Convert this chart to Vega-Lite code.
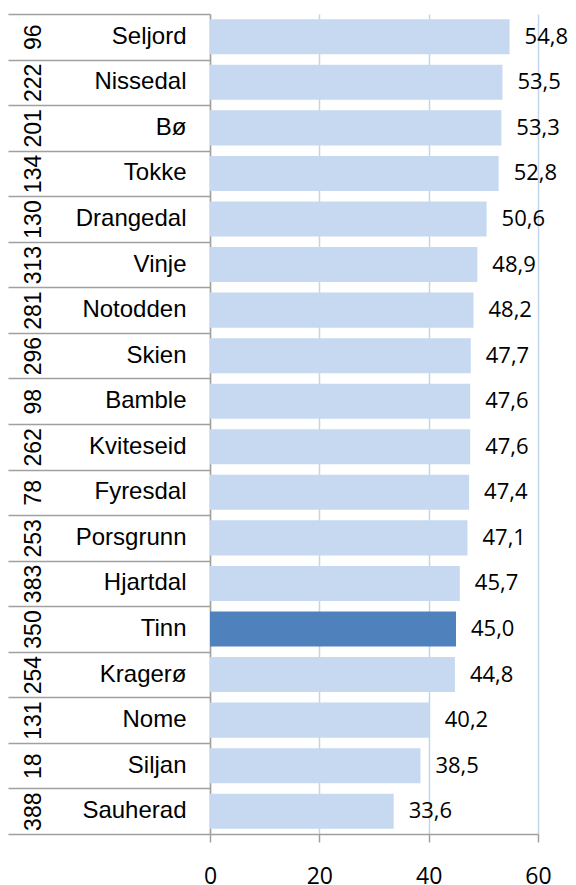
{
  "$schema": "https://vega.github.io/schema/vega-lite/v6.json",
  "autosize": {"type": "none"},
  "width": 328,
  "height": 820,
  "padding": {"left": 210, "top": 14, "right": 38, "bottom": 51},
  "data": {
    "values": [
      {"name": "Seljord", "n": 96, "value": 54.8},
      {"name": "Nissedal", "n": 222, "value": 53.5},
      {"name": "Bø", "n": 201, "value": 53.3},
      {"name": "Tokke", "n": 134, "value": 52.8},
      {"name": "Drangedal", "n": 130, "value": 50.6},
      {"name": "Vinje", "n": 313, "value": 48.9},
      {"name": "Notodden", "n": 281, "value": 48.2},
      {"name": "Skien", "n": 296, "value": 47.7},
      {"name": "Bamble", "n": 98, "value": 47.6},
      {"name": "Kviteseid", "n": 262, "value": 47.6},
      {"name": "Fyresdal", "n": 78, "value": 47.4},
      {"name": "Porsgrunn", "n": 253, "value": 47.1},
      {"name": "Hjartdal", "n": 383, "value": 45.7},
      {"name": "Tinn", "n": 350, "value": 45.0},
      {"name": "Kragerø", "n": 254, "value": 44.8},
      {"name": "Nome", "n": 131, "value": 40.2},
      {"name": "Siljan", "n": 18, "value": 38.5},
      {"name": "Sauherad", "n": 388, "value": 33.6}
    ]
  },
  "resolve": {"scale": {"y": "independent"}, "axis": {"y": "independent"}},
  "layer": [
    {
      "mark": {"type": "bar"},
      "encoding": {
        "y": {
          "field": "name", "type": "nominal", "sort": null,
          "scale": {"paddingInner": 0.23, "paddingOuter": 0.115},
          "axis": {
            "orient": "left", "title": null, "ticks": false,
            "domain": true, "domainColor": "#a0a0a0", "domainWidth": 1.5,
            "labelPadding": 24, "labelFont": "Liberation Sans", "labelFontSize": 24,
            "labelColor": "#000000", "labelAlign": "right", "labelBaseline": "middle"
          }
        },
        "x": {
          "field": "value", "type": "quantitative",
          "scale": {"domain": [0, 60], "nice": false},
          "axis": {
            "title": null, "values": [0, 20, 40, 60], "labelFlush": false,
            "grid": true, "gridColor": "#c3d5ec", "gridWidth": 1.5,
            "domainColor": "#a0a0a0", "domainWidth": 1.5,
            "tickColor": "#a0a0a0", "tickWidth": 1.5, "tickSize": 8,
            "labelFont": "Open Sans", "labelFontSize": 23, "labelColor": "#000000",
            "labelPadding": 23
          }
        },
        "color": {
          "condition": {"test": "datum.name === 'Tinn'", "value": "#4f81bd"},
          "value": "#c6d9f1"
        }
      }
    },
    {
      "mark": {"type": "text", "align": "left", "baseline": "middle", "dx": 15,
               "font": "Open Sans", "fontSize": 22, "color": "#000000"},
      "encoding": {
        "y": {
          "field": "name", "type": "nominal", "sort": null,
          "scale": {"paddingInner": 0.23, "paddingOuter": 0.115},
          "axis": null
        },
        "x": {"field": "value", "type": "quantitative"},
        "text": {"field": "value", "type": "quantitative", "format": ".1f"}
      }
    },
    {
      "mark": {"type": "bar", "opacity": 0},
      "encoding": {
        "y": {
          "field": "n", "type": "ordinal", "sort": null,
          "scale": {"paddingInner": 0, "paddingOuter": 0},
          "axis": {
            "orient": "left", "title": null, "domain": false,
            "ticks": true, "tickBand": "extent", "tickSize": 202,
            "tickColor": "#a0a0a0", "tickWidth": 1.5,
            "labelAngle": -90, "labelAlign": "center", "labelBaseline": "middle",
            "labelPadding": -25, "labelFont": "Liberation Sans", "labelFontSize": 23,
            "labelColor": "#000000"
          }
        },
        "x": {"field": "value", "type": "quantitative"}
      }
    }
  ],
  "config": {
    "view": {"stroke": null},
    "locale": {"number": {"decimal": ",", "thousands": "\u00a0", "grouping": [3], "currency": ["", " kr"]}}
  }
}
